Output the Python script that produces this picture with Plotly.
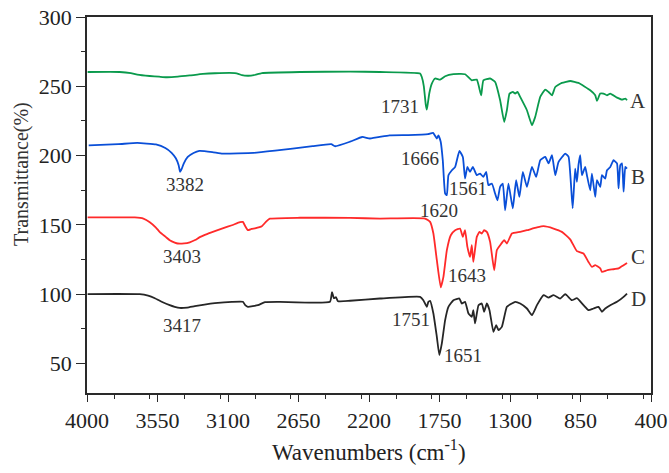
import plotly.graph_objects as go

# ---- data (wavenumber cm-1, transmittance %) ----
A_wn = [3996, 3791, 3720, 3679, 3600, 3540, 3493, 3420, 3344, 3260, 3184, 3056, 3030, 3011, 2970, 2935, 2884, 2641, 2321, 2130, 1874, 1863,
        1850, 1838, 1831, 1824, 1815, 1799, 1778, 1746, 1714, 1661, 1587, 1544, 1512, 1484, 1470,
        1427, 1395, 1363, 1337, 1320, 1303, 1282, 1267, 1252, 1235, 1192, 1160, 1139, 1107, 1075,
        1054, 1032, 1011, 969, 915, 863, 788, 756, 745, 724, 703, 681, 660, 617, 585, 564, 553]
A_T = [260.3, 260.3, 259.5, 258.4, 257.4, 256.9, 256.5, 256.9, 257.8, 258.9, 259.4, 259.5, 258.8, 258.0, 257.6, 258.0, 259.5, 260.3, 260.6, 260.3, 259.2, 256.7,
       250.0, 237.0, 233.2, 238.0, 245.0, 251.9, 255.6, 254.8, 257.2, 258.7, 258.7, 254.3, 254.8, 243.5, 254.3,
       255.6, 253.1, 239.9, 224.2, 232.7, 244.7, 245.9, 244.7, 245.9, 242.3, 232.7, 221.9, 227.9, 242.3, 247.6,
       245.9, 243.5, 249.5, 252.4, 253.8, 252.4, 247.1, 243.5, 239.4, 244.7, 244.7, 243.5, 244.7, 241.8, 240.4, 241.1, 239.9]

B_wn = [3989, 3800, 3679, 3560, 3500, 3460, 3433, 3415, 3406, 3395, 3382, 3357, 3320, 3283, 3200, 3134, 2936, 2800, 2688, 2560, 2441, 2416, 2321,
        2243, 2194, 2069, 1950, 1823, 1791, 1767, 1757, 1742, 1729, 1714, 1703, 1693, 1671, 1650, 1623,
        1601, 1587, 1572, 1555, 1537, 1512, 1491, 1470, 1452, 1438, 1416, 1395, 1380, 1363, 1346,
        1331, 1310, 1282, 1261, 1240, 1218, 1192, 1160, 1133, 1107, 1075, 1054, 1032, 1011, 990,
        947, 926, 900, 884, 873, 863, 852, 841, 820, 809, 788, 777, 756, 745, 724,
        713, 692, 681, 660, 639, 617, 607, 596, 585, 575, 564, 553]
B_T = [207.4, 208.2, 209.1, 208.0, 205.5, 202.0, 198.0, 193.0, 188.2, 190.5, 194.4, 199.0, 201.8, 203.3, 202.5, 201.4, 201.9, 203.5, 205.0, 206.8, 208.2, 206.7, 210.0,
       213.4, 212.3, 214.6, 214.8, 215.4, 216.3, 212.3, 214.6, 209.8, 196.6, 172.6, 171.4, 185.8, 189.4, 191.8, 203.3,
       199.0, 183.4, 191.8, 188.2, 191.8, 185.8, 187.0, 184.6, 188.2, 178.6, 179.8, 172.6, 167.7, 177.4, 179.8,
       160.5, 179.8, 161.8, 182.2, 170.1, 188.2, 177.4, 191.8, 184.6, 196.6, 199.0, 194.3, 200.2, 185.8, 195.4,
       201.4, 199.0, 162.0, 190.6, 181.0, 193.0, 200.2, 185.8, 191.8, 185.8, 174.9, 187.0, 170.1, 182.2, 177.4,
       185.8, 183.4, 189.4, 191.8, 196.6, 194.3, 176.3, 193.0, 194.3, 173.9, 191.8, 190.6]

C_wn = [3996, 3695, 3640, 3599, 3560, 3535, 3500, 3472, 3440, 3420, 3380, 3344, 3310, 3280, 3230, 3184, 3130, 3075, 3024, 3005, 2990, 2973, 2950, 2928, 2884,
        2855, 2833, 2641, 2321, 2130, 1842, 1810, 1789, 1767, 1742, 1725, 1703, 1678, 1650, 1619, 1601,
        1587, 1572, 1555, 1544, 1534, 1512, 1495, 1480, 1465, 1448, 1427, 1401, 1384, 1363, 1337,
        1320, 1288, 1235, 1192, 1128, 1086, 1022, 969, 916, 873, 831, 799, 777, 756, 724,
        713, 681, 649, 607, 575, 553]
C_T = [155.3, 155.3, 154.5, 151.9, 148.0, 144.7, 141.5, 138.9, 137.2, 136.5, 136.6, 137.4, 139.0, 141.1, 143.5, 145.4, 147.6, 149.7, 151.9, 152.1, 149.0, 146.1, 147.0, 147.5, 149.0,
       152.5, 154.4, 155.1, 155.0, 154.5, 154.5, 152.1, 143.7, 124.5, 104.8, 112.4, 131.7, 142.5, 146.1, 147.3, 141.3,
       146.1, 134.1, 126.8, 135.3, 123.2, 141.3, 144.9, 143.7, 146.1, 144.9, 137.7, 117.2, 131.7, 135.3, 138.9,
       136.5, 143.7, 144.9, 146.1, 148.1, 149.0, 147.3, 144.9, 139.5, 131.0, 129.3, 123.2, 119.6, 120.9, 118.5,
       116.0, 117.2, 117.8, 118.5, 120.9, 122.5]

D_wn = [3996, 3663, 3610, 3567, 3520, 3472, 3440, 3408, 3360, 3312, 3250, 3184, 3075, 3005, 2990, 2973, 2909, 2864, 2769, 2449, 2436,
        2424, 2411, 2398, 2321, 2130, 1874, 1853, 1831, 1821, 1810, 1789, 1767, 1751, 1735, 1714,
        1693, 1661, 1623, 1608, 1587, 1565, 1544, 1534, 1523, 1501, 1480, 1465, 1448, 1431, 1406,
        1388, 1374, 1352, 1320, 1288, 1267, 1235, 1192, 1160, 1128, 1086, 1054, 1022, 980, 947,
        905, 873, 831, 799, 767, 735, 713, 692, 660, 617, 575, 553]
D_T = [100.0, 99.9, 98.8, 97.0, 94.3, 92.0, 90.8, 90.0, 90.3, 91.3, 92.4, 93.4, 94.4, 94.5, 92.0, 90.8, 92.0, 94.2, 94.4, 94.5, 101.4,
       97.0, 97.8, 94.9, 95.2, 96.8, 98.0, 95.6, 90.8, 94.4, 95.1, 86.0, 69.1, 55.9, 64.4, 81.2,
       90.8, 95.6, 96.8, 93.2, 94.4, 86.0, 83.6, 88.4, 78.8, 92.0, 93.2, 87.2, 93.2, 88.4, 72.7,
       77.6, 74.0, 76.3, 90.8, 93.2, 94.4, 93.2, 89.6, 84.8, 92.0, 99.2, 97.5, 99.2, 96.8, 99.9,
       95.6, 97.0, 92.0, 88.4, 89.6, 90.8, 87.2, 89.6, 92.0, 94.4, 98.0, 100.4]

series_names = ["A", "B", "C", "D"]
series_colors = ["#0a9a4c", "#0a4fd8", "#ff2a2a", "#262626"]

peak_text = ["1731", "3382", "1666", "1561", "1620", "3403", "1643", "3417", "1751", "1651"]
peak_wn = [1999, 3376, 1874, 1571, 1751, 3395, 1576, 3395, 1933, 1602]
peak_T = [235.1, 179.3, 197.8, 176.2, 160.0, 127.3, 113.6, 77.2, 81.8, 55.9]

letter_wn = [480, 480, 480, 480]
letter_T = [239.4, 184.6, 126.8, 96.8]

x_ticks = [4000, 3550, 3100, 2650, 2200, 1750, 1300, 850, 400]
y_ticks = [50, 100, 150, 200, 250, 300]

# ---- figure ----
SERIF = "Liberation Serif, Times New Roman, serif"
AXC = "#2a2a2a"

fig = go.Figure()
for name, wn, t, col in zip(series_names, [A_wn, B_wn, C_wn, D_wn], [A_T, B_T, C_T, D_T], series_colors):
    fig.add_trace(go.Scatter(x=wn, y=t, mode="lines", name=name,
                             line=dict(color=col, width=1.8, shape="spline", smoothing=0.4),
                             showlegend=False))

annotations = []
for txt, xw, yt in zip(peak_text, peak_wn, peak_T):
    annotations.append(dict(x=xw, y=yt, xref="x", yref="y", text=txt, showarrow=False,
                            xanchor="center", yanchor="middle",
                            font=dict(family=SERIF, size=19, color="#333333")))
for name, xw, yt in zip(series_names, letter_wn, letter_T):
    annotations.append(dict(x=xw, y=yt, xref="x", yref="y", text=name, showarrow=False,
                            xanchor="center", yanchor="middle",
                            font=dict(family=SERIF, size=21, color="#333333")))
annotations.append(dict(x=-0.115, y=0.583, xref="paper", yref="paper", text="Transmittance(%)",
                        textangle=-90, showarrow=False, xanchor="center", yanchor="middle",
                        font=dict(family=SERIF, size=20, color="#333333")))
annotations.append(dict(x=0.5, y=-0.154, xref="paper", yref="paper", text="Wavenumbers (cm<sup>-1</sup>)",
                        showarrow=False, xanchor="center", yanchor="middle",
                        font=dict(family=SERIF, size=23, color="#222222")))

fig.update_layout(
    width=669, height=473,
    margin=dict(l=87, r=18, t=17, b=80, autoexpand=False),
    paper_bgcolor="white", plot_bgcolor="white",
    showlegend=False,
    annotations=annotations,
    xaxis=dict(range=[4000, 400], tickvals=x_ticks, ticktext=[str(v) for v in x_ticks],
               automargin=False,
               showgrid=False, zeroline=False, showline=True, linecolor=AXC, linewidth=1.5,
               mirror=True, ticks="outside", ticklen=7, tickwidth=1.3, tickcolor=AXC,
               minor=dict(ticks="outside", ticklen=4, tickwidth=1.2, tickcolor=AXC, dtick=225, showgrid=False),
               tickfont=dict(family=SERIF, size=22, color="#222222")),
    yaxis=dict(range=[28.6, 300], tickvals=y_ticks, ticktext=[str(v) for v in y_ticks],
               automargin=False,
               showgrid=False, zeroline=False, showline=True, linecolor=AXC, linewidth=1.5,
               mirror=True, ticks="outside", ticklen=9, tickwidth=1.3, tickcolor=AXC,
               minor=dict(ticks="outside", ticklen=4, tickwidth=1.2, tickcolor=AXC, dtick=25, showgrid=False),
               tickfont=dict(family=SERIF, size=22, color="#222222")),
)

fig.write_html("out.html", config={"displayModeBar": False},
               post_script="document.body.style.margin='0';document.body.style.padding='0';")
